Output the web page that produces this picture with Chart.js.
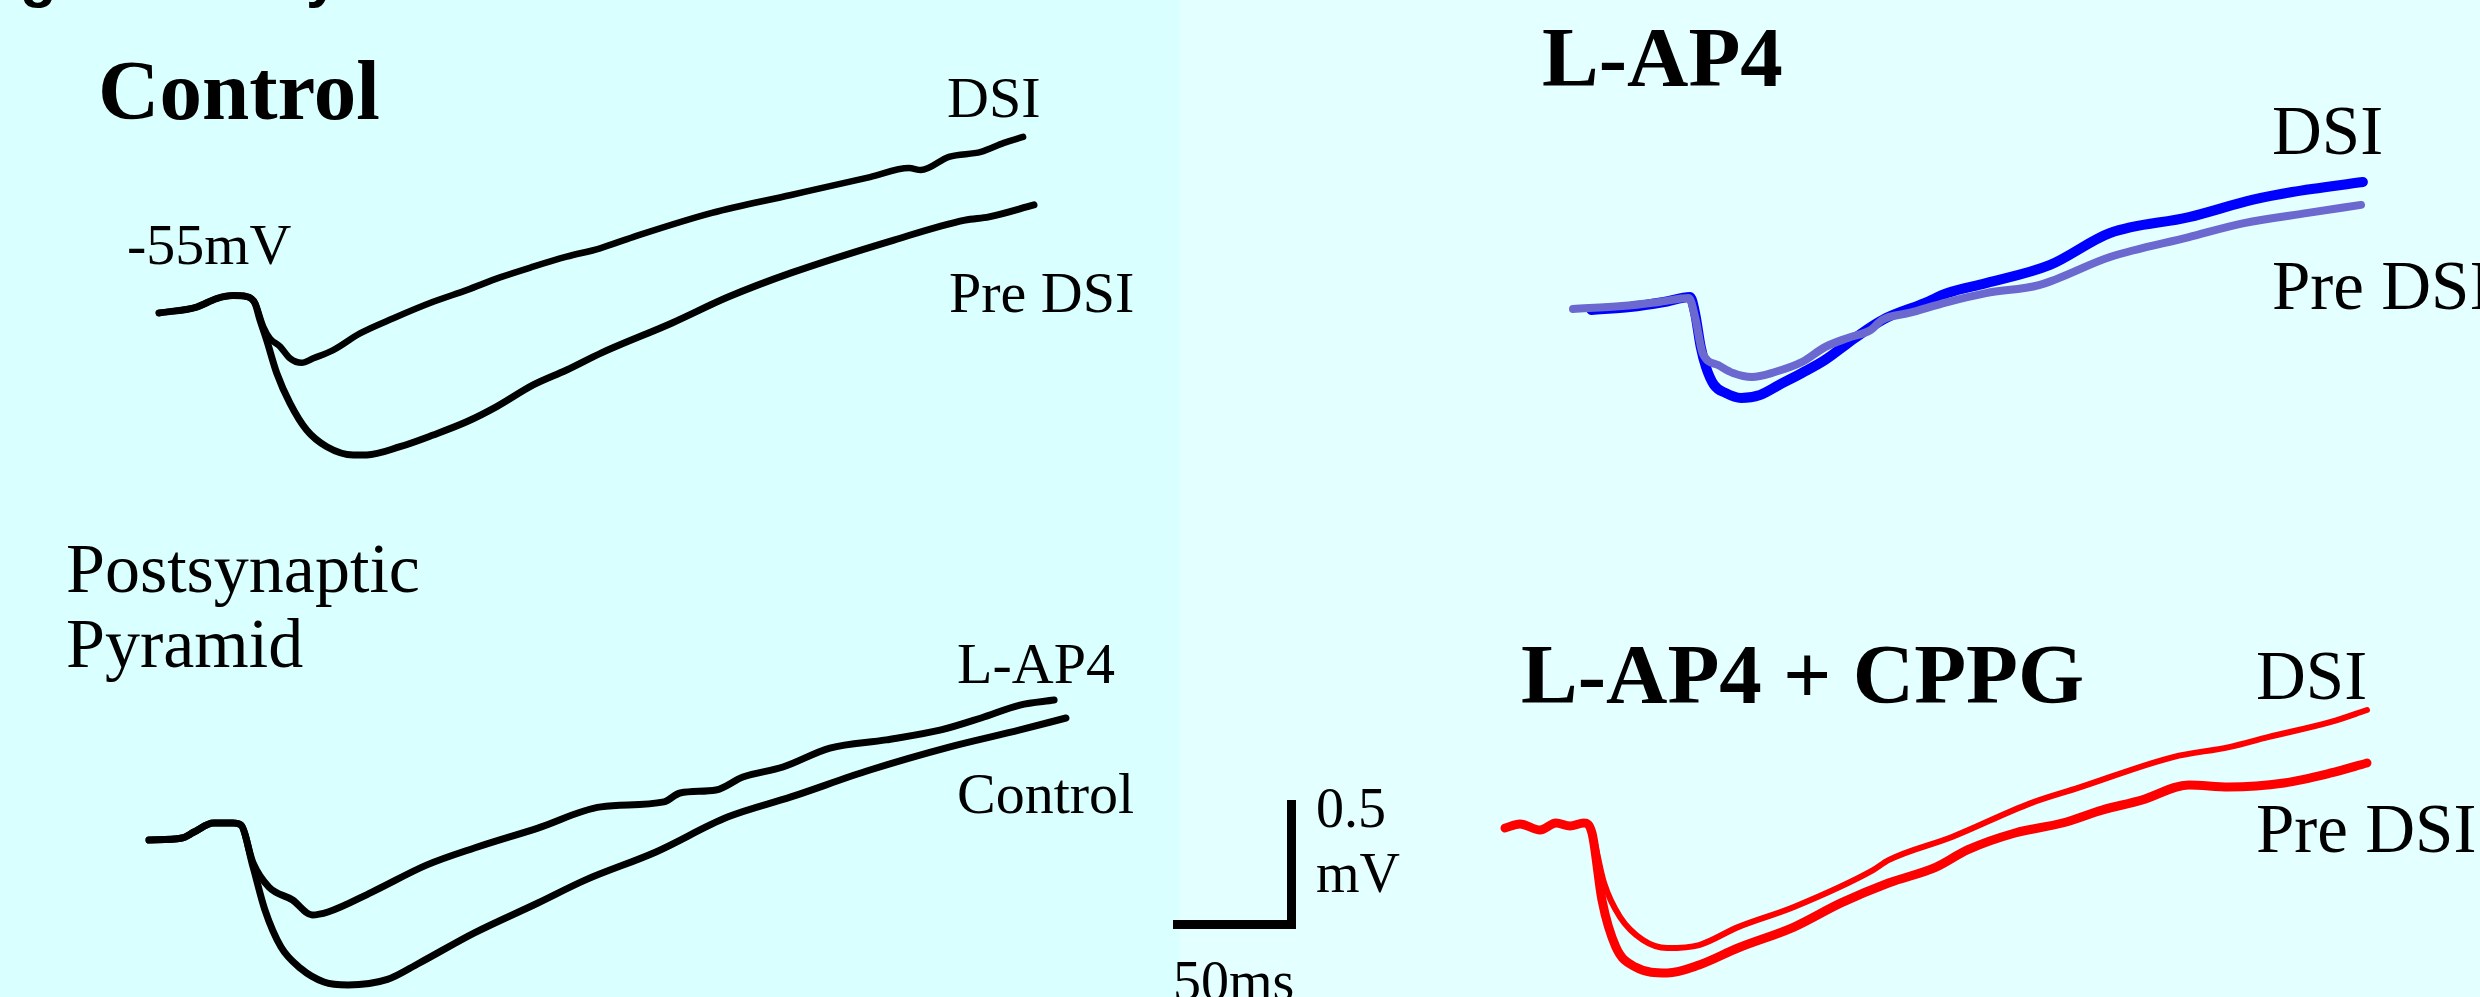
<!DOCTYPE html>
<html>
<head>
<meta charset="utf-8">
<script src="https://cdn.jsdelivr.net/npm/chart.js@4"></script>
<style>
  html, body { margin: 0; padding: 0; }
  body {
    width: 2480px; height: 997px; overflow: hidden; position: relative;
    background: linear-gradient(to right, #d9ffff 0, #d9ffff 1180px, #e3ffff 1180px);
  }
  #traces { position: absolute; left: 0; top: 0; }
  .lbl { position: absolute; white-space: nowrap; line-height: 1; color: #000;
         font-family: "Liberation Serif", "Times New Roman", serif; }
</style>
</head>
<body>
<canvas id="traces" width="2480" height="997"></canvas>
<script>
const W = 2480, H = 997;
// scale bar: 50 ms and 0.5 mV
const PX_PER_MS = 2.37;
const PX_PER_MV = 249;

// ---- Control (top left): ms from trace start, mV from the -55 mV baseline
const ctrlPreMs = [0, 15.9, 24.3, 31.4, 37.0, 40.5, 42.6, 45.4, 49.7, 55.3, 62.3, 70.8, 82.0, 87.6, 101.7, 115.7, 129.8, 142.5, 157.9, 172.0, 186.5, 216.5, 240.1, 266.7, 310.1, 340.1, 350.2, 369.2];
const ctrlPreMv = [0, 0.024, 0.058, 0.070, 0.066, 0.039, -0.028, -0.108, -0.242, -0.363, -0.470, -0.537, -0.570, -0.570, -0.537, -0.490, -0.437, -0.376, -0.289, -0.229, -0.161, -0.040, 0.064, 0.161, 0.293, 0.373, 0.386, 0.434];
const ctrlDsiMs = [0, 15.9, 24.3, 31.4, 37.0, 40.5, 44.0, 46.8, 51.1, 55.3, 60.2, 65.1, 73.5, 84.8, 98.9, 115.7, 129.8, 143.9, 157.9, 172.0, 186.1, 200.0, 233.3, 266.7, 300.0, 316.5, 321.5, 333.3, 346.8, 356.5, 364.6];
const ctrlDsiMv = [0, 0.024, 0.058, 0.070, 0.066, 0.039, -0.055, -0.102, -0.135, -0.182, -0.200, -0.182, -0.149, -0.082, -0.021, 0.045, 0.092, 0.143, 0.186, 0.226, 0.260, 0.305, 0.402, 0.474, 0.546, 0.582, 0.574, 0.627, 0.647, 0.683, 0.707];

// ---- Postsynaptic pyramid (bottom left): control vs L-AP4
const pyrCtrlMs = [0, 13.9, 19.0, 27.2, 35.4, 38.8, 43.9, 48.9, 55.7, 63.9, 73.8, 84.0, 100.6, 113.9, 137.3, 164.1, 184.0, 213.9, 244.1, 270.9, 304.2, 337.6, 367.5, 386.9];
const pyrCtrlMv = [0, 0.008, 0.032, 0.068, 0.068, 0.060, -0.108, -0.281, -0.430, -0.515, -0.570, -0.582, -0.560, -0.495, -0.373, -0.253, -0.161, -0.048, 0.092, 0.173, 0.281, 0.373, 0.442, 0.490];
const pyrLap4Ms = [0, 13.9, 19.0, 27.2, 35.4, 38.8, 43.9, 50.6, 60.6, 68.8, 75.5, 94.1, 117.3, 137.3, 164.1, 190.7, 217.3, 224.1, 239.2, 250.6, 267.5, 287.3, 311.0, 334.2, 351.1, 367.5, 381.9];
const pyrLap4Mv = [0, 0.008, 0.032, 0.068, 0.068, 0.060, -0.092, -0.189, -0.241, -0.301, -0.289, -0.209, -0.100, -0.032, 0.048, 0.133, 0.153, 0.189, 0.201, 0.253, 0.293, 0.369, 0.402, 0.442, 0.490, 0.542, 0.562];

// ---- L-AP4 (top right)
const lap4PreMs = [0, 20.7, 36.9, 48.9, 51.5, 54.7, 61.2, 67.5, 75.5, 85.2, 96.6, 106.3, 116.0, 125.7, 130.4, 141.8, 158.0, 174.3, 196.6, 226.6, 259.9, 283.1, 310.1, 332.5];
const lap4PreMv = [0, 0.012, 0.029, 0.044, -0.032, -0.177, -0.225, -0.257, -0.273, -0.253, -0.213, -0.153, -0.116, -0.084, -0.044, -0.016, 0.028, 0.064, 0.096, 0.209, 0.289, 0.345, 0.386, 0.418];
const lap4DsiMs = [7.8, 24.1, 38.4, 49.4, 51.5, 53.9, 56.1, 59.5, 64.3, 70.9, 78.9, 86.9, 96.6, 106.3, 116.0, 125.7, 132.1, 148.3, 158.0, 174.3, 201.3, 226.6, 259.9, 286.5, 303.4, 333.3];
const lap4DsiMv = [-0.004, 0.008, 0.028, 0.048, -0.016, -0.153, -0.233, -0.305, -0.337, -0.357, -0.345, -0.305, -0.257, -0.205, -0.137, -0.072, -0.036, 0.024, 0.064, 0.104, 0.177, 0.305, 0.369, 0.438, 0.470, 0.510];

// ---- L-AP4 + CPPG (bottom right)
const cppgDsiMs = [0, 6.3, 14.8, 21.5, 27.4, 33.3, 36.7, 41.8, 48.5, 58.2, 68.4, 81.9, 98.3, 121.9, 155.3, 161.8, 188.6, 221.9, 241.8, 281.9, 305.5, 321.9, 348.5, 363.7];
const cppgDsiMv = [0, 0.016, -0.008, 0.020, 0.008, 0.020, -0.020, -0.221, -0.357, -0.450, -0.482, -0.470, -0.398, -0.317, -0.169, -0.129, -0.036, 0.100, 0.161, 0.285, 0.325, 0.365, 0.426, 0.474];
const cppgPreMs = [0, 6.3, 14.8, 21.5, 27.4, 33.3, 36.7, 40.9, 46.8, 54.9, 68.4, 81.9, 98.3, 121.9, 141.8, 161.8, 181.9, 195.1, 215.2, 235.2, 251.9, 268.6, 288.6, 305.3, 328.7, 348.5, 363.7];
const cppgPreMv = [0, 0.016, -0.008, 0.020, 0.008, 0.020, -0.020, -0.289, -0.478, -0.558, -0.582, -0.550, -0.482, -0.398, -0.301, -0.221, -0.157, -0.088, -0.020, 0.020, 0.072, 0.112, 0.173, 0.165, 0.181, 0.221, 0.261];

// scale bar
const barMs = [0, 50, 50];
const barMv = [0, 0, 0.5];

// where each panel's trace origin sits on the page (px)
const panels = [
  { ox: 159, oy: 313, traces: [
    { t: ctrlPreMs, v: ctrlPreMv, color: '#000000', width: 7 },
    { t: ctrlDsiMs, v: ctrlDsiMv, color: '#000000', width: 6.5 } ] },
  { ox: 149, oy: 840, traces: [
    { t: pyrCtrlMs, v: pyrCtrlMv, color: '#000000', width: 7 },
    { t: pyrLap4Ms, v: pyrLap4Mv, color: '#000000', width: 7 } ] },
  { ox: 1573, oy: 309, traces: [
    { t: lap4PreMs, v: lap4PreMv, color: '#6b68d0', width: 8 },
    { t: lap4DsiMs, v: lap4DsiMv, color: '#0000ff', width: 10 } ] },
  { ox: 1505, oy: 828, traces: [
    { t: cppgPreMs, v: cppgPreMv, color: '#ff0000', width: 9 },
    { t: cppgDsiMs, v: cppgDsiMv, color: '#ff0000', width: 6 } ] },
];

const toPoints = (ox, oy, t, v) =>
  t.map((ms, i) => ({ x: ox / PX_PER_MS + ms, y: (H - oy) / PX_PER_MV + v[i] }));

const datasets = [];
panels.forEach(p => {
  p.traces.forEach(tr => {
    datasets.push({
      data: toPoints(p.ox, p.oy, tr.t, tr.v),
      borderColor: tr.color,
      borderWidth: tr.width,
      cubicInterpolationMode: 'monotone',
      borderJoinStyle: 'round',
      borderCapStyle: 'round',
      clip: false,
    });
  });
});
datasets.push({
  data: toPoints(1173, 924.5, barMs, barMv),
  borderColor: '#000000',
  borderWidth: 9,
  tension: 0,
  borderJoinStyle: 'miter',
  borderCapStyle: 'butt',
  clip: false,
});

new Chart(document.getElementById('traces'), {
  type: 'line',
  data: { datasets: datasets },
  options: {
    responsive: false,
    animation: false,
    layout: { padding: 0 },
    elements: { point: { radius: 0 } },
    scales: {
      x: { type: 'linear', min: 0, max: W / PX_PER_MS, display: false },
      y: { type: 'linear', min: 0, max: H / PX_PER_MV, display: false },
    },
    plugins: { legend: { display: false }, tooltip: { enabled: false } },
  },
});

// text labels: [text, left, baseline, size, bold]
const labels = [
  ['Control', 98, 119, 85, true],
  ['DSI', 947, 118, 58, false],
  ['-55mV', 127, 265, 58, false],
  ['Pre DSI', 949, 313, 58, false],
  ['Postsynaptic', 66, 593, 70, false],
  ['Pyramid', 66, 668, 70, false],
  ['L-AP4', 957, 684, 58, false],
  ['Control', 957, 814, 58, false],
  ['0.5', 1316, 827, 56, false],
  ['mV', 1316, 892, 56, false],
  ['50ms', 1173, 1000, 56, false],
  ['L-AP4', 1542, 86, 85, true],
  ['DSI', 2272, 155, 69, false],
  ['Pre DSI', 2272, 310, 69, false],
  ['L-AP4 + CPPG', 1521, 703, 85, true],
  ['DSI', 2256, 700, 69, false],
  ['Pre DSI', 2256, 853, 69, false],
];
labels.forEach(([txt, x, base, size, bold]) => {
  const d = document.createElement('div');
  d.className = 'lbl';
  d.textContent = txt;
  d.style.left = x + 'px';
  d.style.top = (base - 0.8375 * size) + 'px';
  d.style.fontSize = size + 'px';
  if (bold) d.style.fontWeight = 'bold';
  document.body.appendChild(d);
});

// remains of a heading cut off at the top edge
[['g', 20], ['y', 306]].forEach(([txt, x]) => {
  const d = document.createElement('div');
  d.className = 'lbl';
  d.textContent = txt;
  d.style.fontFamily = '"Liberation Sans", Arial, sans-serif';
  d.style.fontWeight = 'bold';
  d.style.fontSize = '60px';
  d.style.left = x + 'px';
  d.style.top = (-3 - 0.8465 * 60) + 'px';
  document.body.appendChild(d);
});
</script>
</body>
</html>
